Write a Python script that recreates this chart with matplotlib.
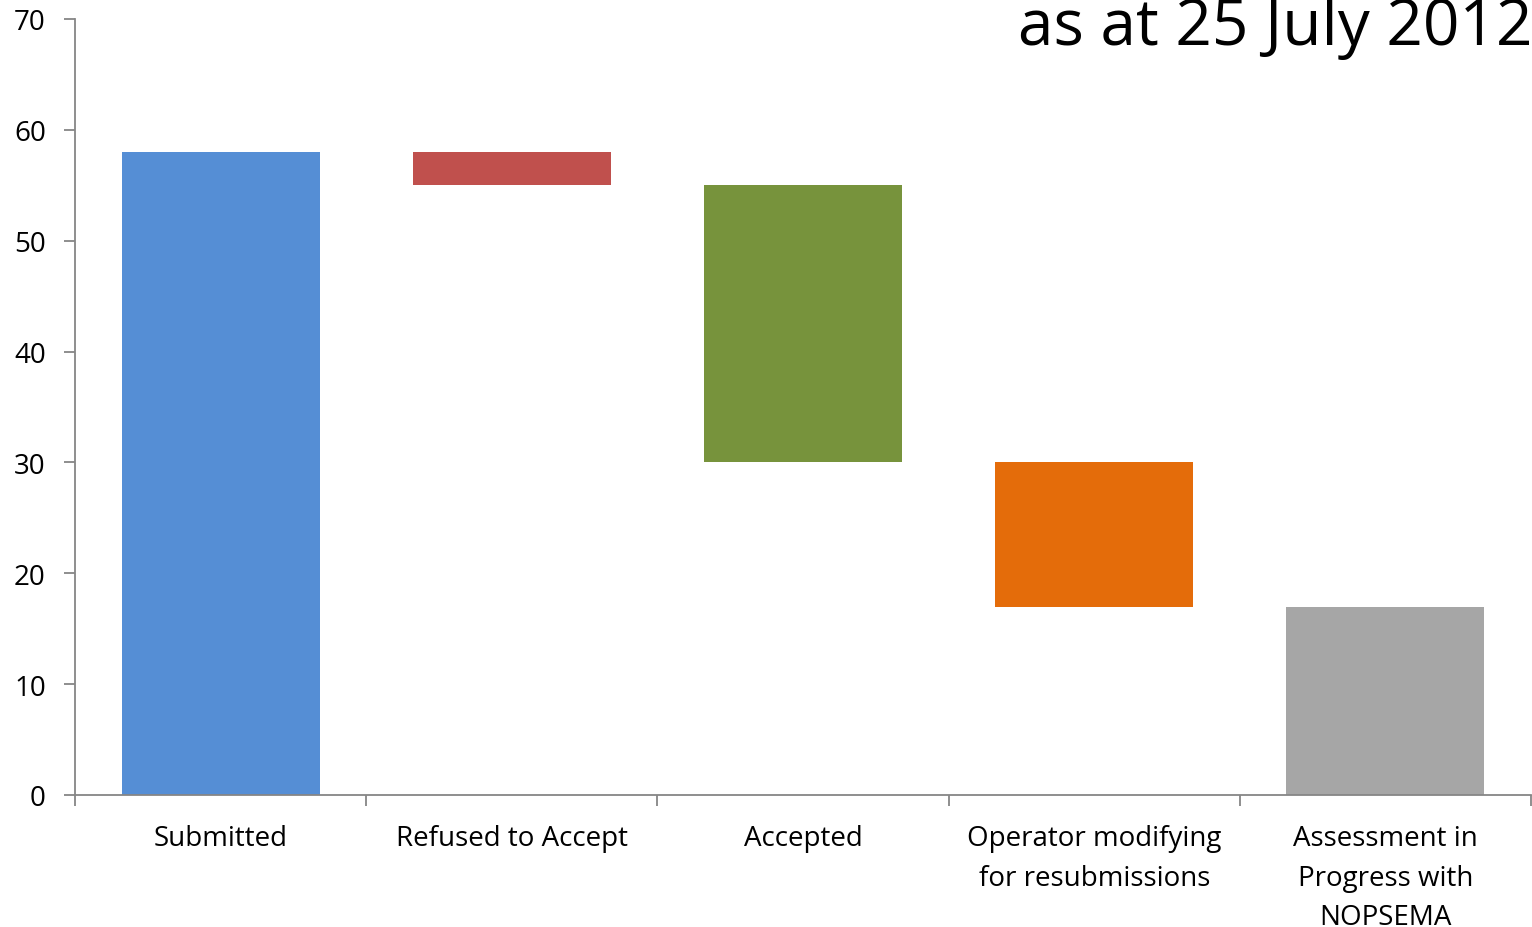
import numpy as np
import matplotlib.pyplot as plt

plt.rcParams['font.family'] = ['Open Sans', 'DejaVu Sans']

categories = ["Submitted", "Refused to Accept", "Accepted",
              "Operator modifying\nfor resubmissions",
              "Assessment in\nProgress with\nNOPSEMA"]
# signed change per step; first and last are totals
changes = [58, -3, -25, -13, 17]
is_total = [True, False, False, False, True]
colors = ["#558ED5", "#C0504D", "#77933C", "#E46C0A", "#A6A6A6"]

heights = []
bottoms = []
level = 0
for c, tot in zip(changes, is_total):
    if tot:
        bottoms.append(0)
        heights.append(c)
        level = c
    else:
        bottoms.append(level + c)
        heights.append(-c)
        level = level + c

fig = plt.figure(figsize=(15.32, 9.28), dpi=100)
ax = fig.add_axes([75/1532, 132/928, 1456/1532, 776/928])

x = np.arange(len(categories))
ax.bar(x, heights, bottom=bottoms, width=0.68, color=colors)

ax.set_xlim(-0.5, len(categories) - 0.5)
ax.set_ylim(0, 70)
ax.set_yticks(np.arange(0, 71, 10))
ax.set_xticks(x)
ax.set_xticklabels(categories, fontsize=20, linespacing=1.54)
ax.set_xticks(np.arange(-0.5, len(categories), 1), minor=True)
ax.tick_params(axis='x', which='major', length=0, pad=21)
ax.tick_params(axis='x', which='minor', length=8, color='#868686', width=1.3)
ax.tick_params(axis='y', length=8, color='#868686', width=1.3, labelsize=20, pad=13)

for s in ['top', 'right']:
    ax.spines[s].set_visible(False)
for s in ['left', 'bottom']:
    ax.spines[s].set_color('#868686')
    ax.spines[s].set_linewidth(1.3)

fig.text(1.0, 1 - 45/928, "as at 25 July 2012", ha='right', va='baseline',
         fontsize=46)

fig.savefig("out.png", dpi=100)
